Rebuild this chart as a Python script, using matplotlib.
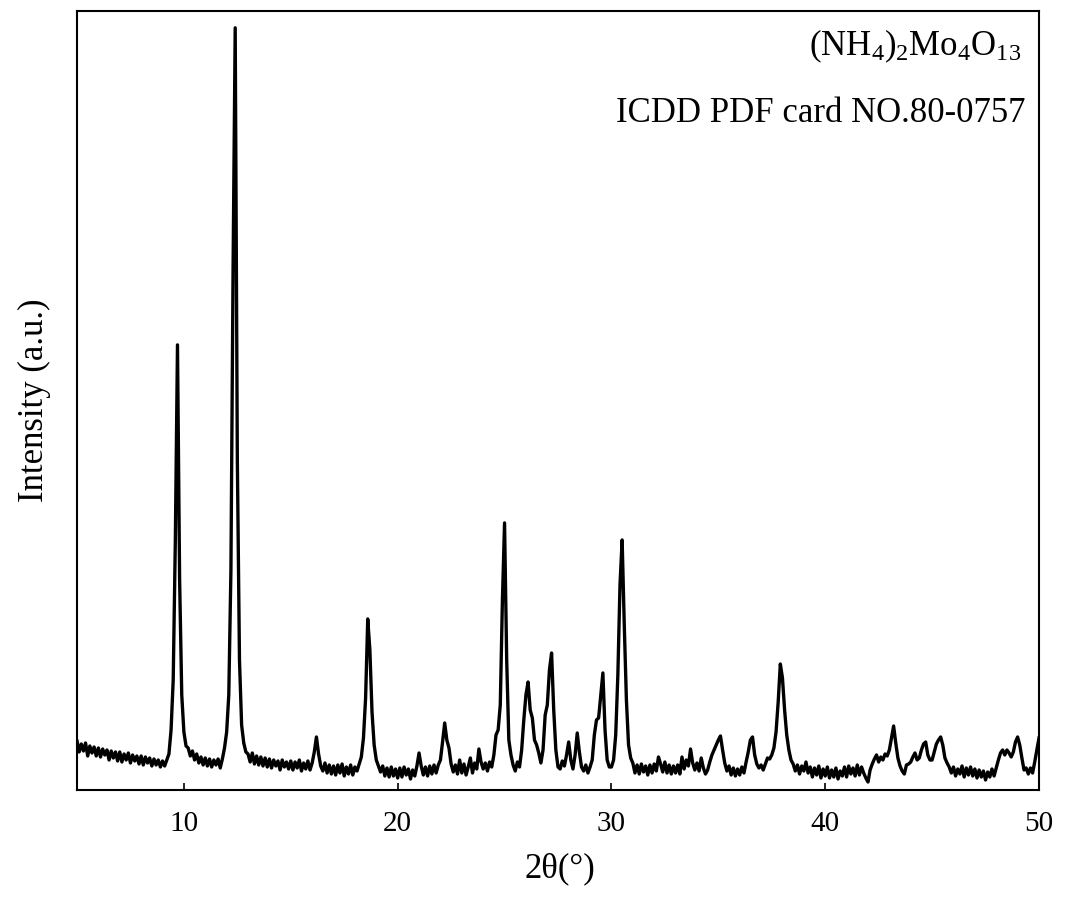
import numpy as np
import matplotlib
matplotlib.use("Agg")
import matplotlib.pyplot as plt

plt.rcParams['font.family'] = ['Liberation Serif', 'DejaVu Serif']
plt.rcParams['mathtext.fontset'] = 'custom'
plt.rcParams['mathtext.rm'] = 'Liberation Serif'
plt.rcParams['mathtext.it'] = 'Liberation Serif:italic'

# 2theta grid, 0.1 degree step from 5 to 50
two_theta = np.round(np.arange(5.0, 50.05, 0.1), 1)

# intensity (a.u.), one row per degree
intensity = [
    49, 38, 46, 39, 47, 34, 44, 37, 43, 34,         # 5
    42, 33, 41, 35, 40, 30, 39, 32, 38, 29,         # 6
    38, 28, 36, 30, 37, 27, 35, 29, 34, 26,         # 7
    34, 25, 33, 27, 32, 24, 31, 25, 30, 23,         # 8
    29, 24, 30, 36, 60, 110, 250, 445, 210, 95,     # 9
    58, 44, 42, 34, 39, 30, 36, 27, 33, 25,         # 10
    32, 24, 31, 23, 30, 25, 31, 22, 31, 42,         # 11
    58, 95, 220, 520, 762, 330, 130, 65, 47, 38,    # 12
    36, 28, 37, 26, 34, 25, 33, 24, 32, 23,         # 13
    31, 22, 30, 24, 29, 20, 30, 23, 28, 21,         # 14
    29, 20, 28, 22, 30, 19, 27, 21, 29, 20,         # 15
    27, 38, 53, 36, 24, 19, 27, 17, 25, 16,         # 16
    24, 15, 25, 17, 26, 14, 23, 16, 25, 15,         # 17
    23, 19, 26, 33, 52, 92, 171, 140, 78, 45,       # 18
    30, 24, 18, 24, 14, 22, 13, 23, 14, 21,         # 19
    12, 22, 13, 23, 15, 21, 11, 20, 14, 24,         # 20
    37, 24, 15, 23, 14, 24, 16, 25, 17, 25,         # 21
    30, 48, 67, 50, 42, 26, 18, 25, 16, 30,         # 22
    17, 26, 15, 23, 32, 17, 27, 21, 41, 28,         # 23
    21, 27, 19, 28, 23, 35, 55, 60, 85, 190,        # 24
    267, 130, 50, 35, 25, 19, 28, 23, 40, 70,       # 25
    95, 108, 80, 72, 50, 45, 37, 27, 40, 75,        # 26
    85, 120, 137, 80, 40, 23, 21, 29, 24, 35,       # 27
    48, 30, 21, 35, 57, 38, 23, 19, 25, 17,         # 28
    23, 30, 55, 70, 72, 95, 117, 60, 30, 23,        # 29
    23, 30, 55, 115, 205, 250, 165, 90, 45, 32,     # 30
    27, 17, 25, 16, 26, 18, 24, 15, 25, 17,         # 31
    26, 19, 33, 26, 18, 28, 17, 25, 16, 24,         # 32
    17, 25, 16, 33, 21, 30, 24, 41, 27, 20,         # 33
    27, 19, 32, 22, 16, 20, 28, 35, 40, 45,         # 34
    50, 54, 40, 27, 19, 24, 15, 22, 14, 21,         # 35
    15, 23, 17, 28, 38, 50, 53, 35, 26, 22,         # 36
    25, 20, 26, 32, 31, 35, 42, 58, 88, 126,        # 37
    112, 80, 55, 40, 30, 26, 19, 25, 16, 24,        # 38
    19, 28, 17, 23, 13, 22, 15, 24, 12, 21,         # 39
    14, 23, 12, 20, 13, 22, 11, 19, 14, 23,         # 40
    13, 24, 16, 22, 14, 25, 15, 23, 17, 12,         # 41
    8, 20, 26, 31, 35, 28, 33, 30, 36, 34,          # 42
    40, 52, 64, 47, 32, 24, 19, 16, 25, 26,         # 43
    28, 33, 37, 30, 32, 40, 46, 48, 35, 30,         # 44
    30, 38, 46, 50, 53, 45, 32, 27, 23, 17,         # 45
    23, 14, 21, 16, 24, 13, 22, 15, 23, 14,         # 46
    21, 12, 20, 13, 19, 10, 18, 13, 21, 14,         # 47
    22, 30, 37, 40, 35, 40, 37, 33, 38, 48,         # 48
    53, 45, 32, 20, 22, 16, 22, 17, 28, 40,         # 49
    52,                                             # 50
]

x_ticks = [10, 20, 30, 40, 50]
label_a = "(NH$_4$)$_2$Mo$_4$O$_{13}$"
label_b = "ICDD PDF card NO.80-0757"

fig = plt.figure(figsize=(10.74, 9.01), dpi=100)
ax = fig.add_axes([0.0717, 0.1232, 0.8957, 0.8648])

ax.plot(two_theta, intensity, color='black', linewidth=2.4)

ax.set_xlim(5, 50)
ax.set_ylim(0, 779)
ax.set_xticks(x_ticks)
ax.set_yticks([])
ax.tick_params(axis='x', direction='in', length=5, width=1.2, labelsize=21, pad=15)
for s in ax.spines.values():
    s.set_linewidth(1.5)

ax.set_xlabel("2θ(°)", fontsize=25)
ax.xaxis.set_label_coords(0.502, -0.08)
ax.set_ylabel("Intensity (a.u.)", fontsize=25)
ax.yaxis.set_label_coords(-0.027, 0.5)

ax.text(0.982, 0.9430, label_a, transform=ax.transAxes, ha='right', va='baseline', fontsize=25)
ax.text(0.9855, 0.8576, label_b, transform=ax.transAxes, ha='right', va='baseline', fontsize=25)

fig.savefig("out.png", dpi=100)
